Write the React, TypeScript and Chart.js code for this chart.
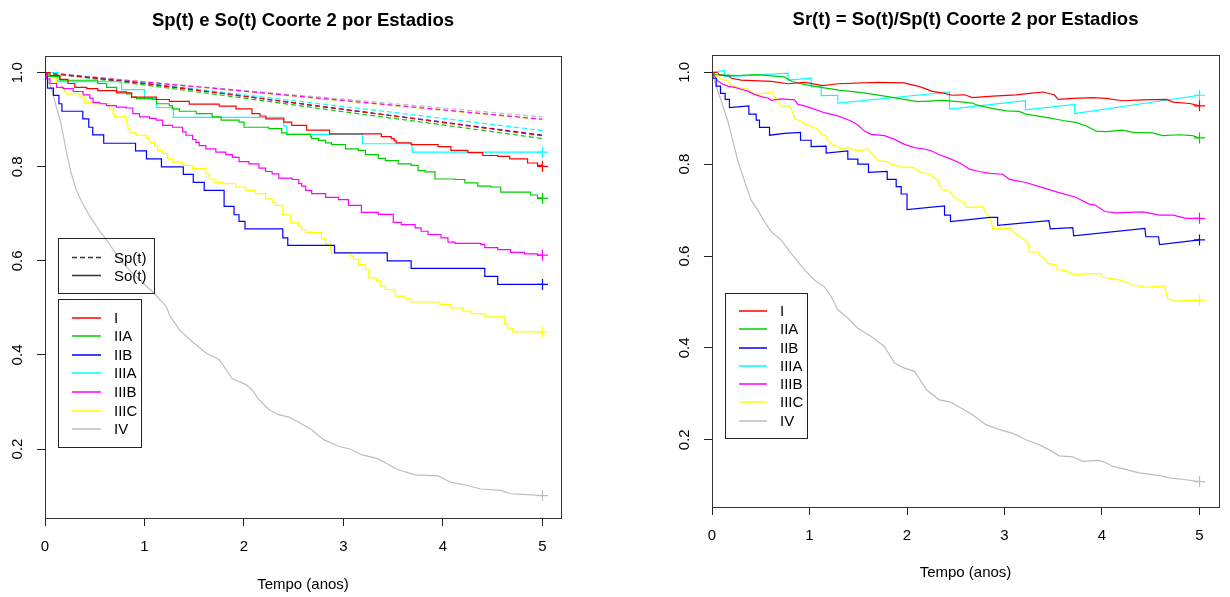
import React, { useEffect, useRef } from 'react';
import { Chart, registerables } from 'chart.js';

Chart.register(...registerables);

type Pt = [number, number];

const FONTE = '"Liberation Sans", Arial, Helvetica, sans-serif';

const estadios = ['I', 'IIA', 'IIB', 'IIIA', 'IIIB', 'IIIC', 'IV'];
const cores = ['#FF0000', '#00CD00', '#0000FF', '#00FFFF', '#FF00FF', '#FFFF00', '#BEBEBE'];
const tiposLinha = ['Sp(t)', 'So(t)'];
const tempoTicks = [0, 1, 2, 3, 4, 5];
const survTicks = [0.2, 0.4, 0.6, 0.8, 1.0];
const tituloEsq = 'Sp(t) e So(t) Coorte 2 por Estadios';
const tituloDir = 'Sr(t) = So(t)/Sp(t) Coorte 2 por Estadios';
const eixoX = 'Tempo (anos)';

// ---- So(t): observed survival (Kaplan-Meier steps) ----
const soI: Pt[] = [[0,1.0],[0.05,0.994],[0.15,0.986],[0.23,0.977],[0.30,0.969],[0.42,0.966],[0.53,0.962],[0.72,0.957],[0.87,0.948],[1.12,0.943],[1.25,0.939],[1.45,0.933],[1.75,0.929],[1.92,0.923],[2.08,0.913],[2.16,0.908],[2.22,0.902],[2.40,0.895],[2.48,0.888],[2.63,0.878],[2.86,0.870],[3.38,0.864],[3.48,0.860],[3.51,0.855],[3.53,0.851],[3.68,0.847],[3.95,0.843],[4.08,0.835],[4.25,0.830],[4.40,0.824],[4.55,0.822],[4.67,0.817],[4.85,0.808],[4.95,0.803],[5.0,0.801]];
const soIIA: Pt[] = [[0,1.0],[0.03,0.992],[0.15,0.984],[0.53,0.977],[0.62,0.969],[0.72,0.960],[0.82,0.955],[0.87,0.948],[0.92,0.945],[1.08,0.943],[1.12,0.934],[1.25,0.930],[1.28,0.923],[1.35,0.918],[1.52,0.913],[1.68,0.906],[1.77,0.899],[1.95,0.895],[2.0,0.884],[2.25,0.881],[2.38,0.872],[2.43,0.869],[2.67,0.864],[2.68,0.860],[2.75,0.856],[2.82,0.851],[2.88,0.847],[3.02,0.838],[3.15,0.835],[3.22,0.826],[3.35,0.818],[3.42,0.813],[3.55,0.806],[3.68,0.803],[3.75,0.792],[3.82,0.789],[3.92,0.774],[4.12,0.773],[4.22,0.766],[4.35,0.759],[4.48,0.757],[4.58,0.746],[4.88,0.740],[4.95,0.734],[5.0,0.733]];
const soIIB: Pt[] = [[0,1.0],[0.025,0.967],[0.085,0.952],[0.14,0.934],[0.17,0.918],[0.38,0.902],[0.44,0.884],[0.48,0.868],[0.59,0.850],[0.91,0.834],[1.02,0.817],[1.17,0.800],[1.39,0.784],[1.49,0.767],[1.60,0.750],[1.80,0.716],[1.90,0.698],[1.95,0.684],[2.01,0.668],[2.39,0.649],[2.44,0.633],[2.91,0.617],[3.44,0.600],[3.68,0.584],[4.42,0.567],[4.55,0.550],[5.0,0.550]];
const soIIIA: Pt[] = [[0,1.0],[0.13,0.981],[0.77,0.964],[1.0,0.945],[1.12,0.926],[1.29,0.905],[2.40,0.887],[2.43,0.869],[3.19,0.849],[3.69,0.831],[5.0,0.831]];
const soIIIB: Pt[] = [[0,1.0],[0.017,0.987],[0.05,0.977],[0.117,0.969],[0.183,0.966],[0.283,0.960],[0.383,0.953],[0.45,0.946],[0.483,0.937],[0.55,0.934],[0.617,0.930],[0.717,0.927],[0.817,0.925],[0.883,0.913],[0.95,0.906],[1.05,0.903],[1.117,0.899],[1.183,0.888],[1.283,0.884],[1.383,0.874],[1.417,0.867],[1.483,0.858],[1.517,0.852],[1.55,0.845],[1.617,0.838],[1.717,0.831],[1.817,0.826],[1.883,0.820],[1.95,0.811],[2.05,0.806],[2.15,0.797],[2.217,0.790],[2.283,0.785],[2.35,0.776],[2.483,0.773],[2.55,0.764],[2.58,0.759],[2.62,0.750],[2.68,0.743],[2.82,0.735],[2.95,0.730],[3.05,0.718],[3.18,0.703],[3.35,0.699],[3.50,0.682],[3.58,0.677],[3.72,0.670],[3.78,0.663],[3.85,0.656],[3.98,0.649],[4.05,0.640],[4.12,0.637],[4.38,0.635],[4.42,0.628],[4.55,0.624],[4.68,0.618],[4.82,0.615],[4.95,0.612],[5.0,0.612]];
const soIIIC: Pt[] = [[0,1.0],[0.05,0.989],[0.117,0.977],[0.167,0.966],[0.2,0.959],[0.217,0.955],[0.35,0.948],[0.4,0.937],[0.483,0.934],[0.65,0.923],[0.683,0.913],[0.7,0.906],[0.817,0.891],[0.833,0.881],[0.85,0.872],[0.917,0.867],[1.017,0.860],[1.05,0.852],[1.1,0.845],[1.133,0.835],[1.183,0.828],[1.233,0.817],[1.283,0.810],[1.383,0.803],[1.483,0.796],[1.617,0.785],[1.65,0.774],[1.7,0.767],[1.783,0.764],[1.917,0.757],[2.017,0.750],[2.117,0.743],[2.217,0.732],[2.283,0.725],[2.317,0.718],[2.39,0.698],[2.47,0.681],[2.55,0.674],[2.58,0.667],[2.62,0.660],[2.78,0.647],[2.82,0.635],[2.87,0.624],[2.88,0.617],[3.07,0.610],[3.10,0.603],[3.15,0.592],[3.22,0.582],[3.25,0.564],[3.33,0.557],[3.37,0.547],[3.42,0.539],[3.52,0.525],[3.62,0.519],[3.68,0.513],[3.97,0.507],[4.08,0.500],[4.20,0.493],[4.28,0.488],[4.42,0.481],[4.62,0.466],[4.65,0.457],[4.70,0.449],[5.0,0.449]];
const soIV: Pt[] = [[0,1.0],[0.033,0.98],[0.067,0.966],[0.11,0.930],[0.157,0.895],[0.19,0.860],[0.223,0.824],[0.26,0.789],[0.31,0.753],[0.37,0.725],[0.45,0.695],[0.55,0.663],[0.64,0.638],[0.75,0.603],[0.88,0.574],[1.02,0.546],[1.10,0.530],[1.22,0.503],[1.25,0.485],[1.35,0.454],[1.42,0.440],[1.48,0.428],[1.62,0.404],[1.75,0.390],[1.82,0.369],[1.88,0.350],[2.02,0.337],[2.08,0.326],[2.15,0.305],[2.25,0.284],[2.35,0.273],[2.45,0.268],[2.55,0.257],[2.68,0.241],[2.80,0.220],[2.95,0.206],[3.08,0.199],[3.18,0.188],[3.35,0.179],[3.45,0.167],[3.55,0.156],[3.72,0.145],[3.95,0.143],[4.08,0.129],[4.22,0.124],[4.38,0.115],[4.58,0.112],[4.68,0.105],[4.85,0.103],[5.0,0.101]];

// ---- Sp(t): expected (population) survival ----
const spTempo = [0, 1, 2, 3, 4, 5];
const spI = [1.0, 0.977, 0.950, 0.922, 0.894, 0.866];
const spIIA = [1.0, 0.974, 0.946, 0.917, 0.889, 0.860];
const spIIB = [1.0, 0.977, 0.950, 0.922, 0.895, 0.867];
const spIIIA = [1.0, 0.978, 0.953, 0.928, 0.903, 0.877];
const spIIIB = [1.0, 0.980, 0.961, 0.941, 0.921, 0.901];
const spIIIC = [1.0, 0.980, 0.960, 0.940, 0.920, 0.900];
const spIV = [1.0, 0.981, 0.962, 0.944, 0.925, 0.906];

// ---- Sr(t) = So(t)/Sp(t): relative survival ----
const srI: Pt[] = [[0,1.0],[0.06,0.999],[0.077,0.994],[0.18,0.992],[0.197,0.987],[0.30,0.983],[0.61,0.980],[0.78,0.975],[0.95,0.978],[1.14,0.971],[1.29,0.975],[1.70,0.978],[1.97,0.977],[2.11,0.970],[2.18,0.965],[2.25,0.959],[2.385,0.954],[2.46,0.950],[2.59,0.951],[2.67,0.945],[2.88,0.948],[3.12,0.951],[3.26,0.954],[3.39,0.957],[3.51,0.951],[3.55,0.941],[3.70,0.943],[3.91,0.945],[4.04,0.943],[4.21,0.938],[4.42,0.940],[4.66,0.941],[4.73,0.935],[4.90,0.932],[5.0,0.927]];
const srIIA: Pt[] = [[0,1.0],[0.03,0.995],[0.25,0.993],[0.46,0.995],[0.61,0.992],[0.74,0.990],[0.82,0.980],[0.98,0.972],[1.12,0.967],[1.30,0.961],[1.56,0.955],[1.77,0.948],[2.0,0.940],[2.11,0.936],[2.38,0.939],[2.58,0.935],[2.67,0.933],[2.71,0.929],[2.88,0.921],[3.02,0.916],[3.15,0.915],[3.22,0.909],[3.43,0.902],[3.6,0.895],[3.73,0.891],[3.84,0.883],[3.94,0.872],[4.04,0.871],[4.21,0.874],[4.32,0.869],[4.52,0.868],[4.62,0.862],[4.79,0.864],[4.93,0.862],[5.0,0.857]];
const srIIB: Pt[] = [[0,1.0],[0.008,1.0],[0.008,0.987],[0.043,0.987],[0.043,0.970],[0.087,0.970],[0.087,0.954],[0.135,0.954],[0.135,0.941],[0.179,0.941],[0.179,0.923],[0.378,0.927],[0.378,0.909],[0.453,0.909],[0.453,0.896],[0.487,0.896],[0.487,0.880],[0.59,0.880],[0.59,0.863],[0.744,0.867],[0.908,0.869],[0.908,0.852],[1.017,0.852],[1.017,0.838],[1.171,0.839],[1.171,0.824],[1.393,0.829],[1.393,0.811],[1.496,0.811],[1.496,0.800],[1.605,0.800],[1.605,0.782],[1.797,0.784],[1.797,0.767],[1.889,0.767],[1.889,0.751],[1.94,0.751],[1.94,0.735],[2.0,0.735],[2.0,0.701],[2.385,0.709],[2.385,0.689],[2.446,0.689],[2.446,0.675],[2.85,0.684],[2.93,0.684],[2.93,0.667],[3.455,0.677],[3.47,0.659],[3.70,0.662],[3.71,0.644],[4.44,0.660],[4.45,0.642],[4.58,0.642],[4.59,0.625],[5.0,0.635]];
const srIIIA: Pt[] = [[0,1.0],[0.128,1.004],[0.128,0.990],[0.78,0.998],[0.78,0.983],[1.017,0.987],[1.017,0.968],[1.12,0.970],[1.12,0.949],[1.29,0.950],[1.29,0.933],[2.385,0.956],[2.436,0.957],[2.436,0.920],[3.215,0.938],[3.215,0.918],[3.72,0.930],[3.72,0.910],[5.0,0.950]];
const srIIIB: Pt[] = [[0,1.0],[0.026,0.992],[0.06,0.981],[0.111,0.974],[0.162,0.970],[0.231,0.967],[0.299,0.963],[0.368,0.959],[0.436,0.952],[0.504,0.947],[0.573,0.944],[0.607,0.939],[0.709,0.942],[0.846,0.940],[0.88,0.930],[0.949,0.927],[1.017,0.922],[1.154,0.912],[1.29,0.905],[1.427,0.894],[1.496,0.885],[1.564,0.872],[1.632,0.865],[1.769,0.862],[1.872,0.854],[1.974,0.843],[2.077,0.836],[2.179,0.833],[2.248,0.829],[2.316,0.822],[2.453,0.811],[2.556,0.801],[2.64,0.789],[2.74,0.784],[2.85,0.780],[2.98,0.778],[3.05,0.767],[3.22,0.760],[3.39,0.749],[3.56,0.738],[3.73,0.728],[3.87,0.713],[3.93,0.711],[4.03,0.697],[4.14,0.694],[4.42,0.696],[4.59,0.689],[4.73,0.689],[4.86,0.682],[5.0,0.682]];
const srIIIC: Pt[] = [[0,1.0],[0.06,0.988],[0.162,0.981],[0.197,0.972],[0.265,0.967],[0.368,0.963],[0.436,0.952],[0.62,0.956],[0.641,0.945],[0.692,0.938],[0.70,0.927],[0.795,0.927],[0.829,0.912],[0.846,0.898],[0.915,0.894],[0.949,0.887],[1.017,0.883],[1.085,0.876],[1.12,0.865],[1.171,0.862],[1.188,0.851],[1.239,0.843],[1.325,0.833],[1.393,0.836],[1.496,0.829],[1.598,0.833],[1.667,0.818],[1.701,0.807],[1.786,0.806],[1.838,0.800],[1.94,0.794],[2.06,0.793],[2.145,0.782],[2.248,0.777],[2.316,0.764],[2.35,0.746],[2.419,0.742],[2.487,0.728],[2.59,0.715],[2.607,0.706],[2.78,0.707],[2.812,0.693],[2.846,0.686],[2.88,0.660],[3.068,0.660],[3.085,0.653],[3.137,0.646],[3.188,0.638],[3.24,0.629],[3.256,0.609],[3.342,0.609],[3.359,0.602],[3.41,0.595],[3.444,0.584],[3.53,0.580],[3.53,0.571],[3.63,0.568],[3.72,0.559],[3.84,0.561],[3.99,0.562],[4.01,0.554],[4.11,0.551],[4.21,0.546],[4.316,0.537],[4.45,0.532],[4.641,0.535],[4.675,0.507],[4.744,0.502],[5.0,0.504]];
const srIV: Pt[] = [[0,1.0],[0.026,0.981],[0.06,0.959],[0.094,0.938],[0.128,0.916],[0.162,0.894],[0.197,0.865],[0.231,0.836],[0.265,0.807],[0.299,0.785],[0.333,0.764],[0.368,0.742],[0.402,0.721],[0.47,0.700],[0.538,0.675],[0.607,0.653],[0.709,0.635],[0.812,0.606],[0.949,0.570],[1.05,0.548],[1.154,0.533],[1.222,0.512],[1.29,0.483],[1.393,0.465],[1.496,0.443],[1.632,0.425],[1.769,0.403],[1.872,0.367],[1.974,0.356],[2.077,0.349],[2.20,0.309],[2.33,0.287],[2.45,0.282],[2.54,0.271],[2.675,0.254],[2.81,0.233],[2.95,0.222],[3.085,0.214],[3.22,0.200],[3.36,0.189],[3.46,0.178],[3.56,0.165],[3.70,0.163],[3.80,0.153],[3.97,0.155],[4.04,0.150],[4.11,0.142],[4.25,0.135],[4.38,0.128],[4.59,0.122],[4.69,0.117],[4.86,0.113],[5.0,0.109]];

const soCurvas = [soI, soIIA, soIIB, soIIIA, soIIIB, soIIIC, soIV];
const spCurvas = [spI, spIIA, spIIB, spIIIA, spIIIB, spIIIC, spIV];
const srCurvas = [srI, srIIA, srIIB, srIIIA, srIIIB, srIIIC, srIV];

const toXY = (pts: Pt[]) => pts.map(([x, y]) => ({ x, y }));

function curva(pts: Pt[], cor: string, stepped: boolean, marca: boolean) {
  const n = pts.length;
  return {
    data: toXY(pts),
    borderColor: cor,
    backgroundColor: cor,
    borderWidth: 1.2,
    stepped: stepped ? 'before' : false,
    tension: 0,
    fill: false,
    pointStyle: 'cross',
    pointRadius: (c: any) => (marca && c.dataIndex === n - 1 ? 5.5 : 0),
    pointHoverRadius: 0,
    pointBorderColor: cor,
    pointBorderWidth: 1.2,
  };
}

function tracejada(vals: number[], cor: string) {
  return {
    data: spTempo.map((t, i) => ({ x: t, y: vals[i] })),
    borderColor: cor,
    borderWidth: 1.2,
    borderDash: [5, 3],
    tension: 0,
    fill: false,
    pointRadius: 0,
    pointHoverRadius: 0,
  };
}

function escalas(xMax: number, yMin: number, yMax: number, xAltura: number, tituloBaixo: number) {
  const grid = { drawOnChartArea: false, drawTicks: true, tickLength: 8, color: '#222', lineWidth: 1 };
  return {
    x: {
      type: 'linear', min: 0, max: xMax,
      afterBuildTicks: (s: any) => { s.ticks = tempoTicks.map((v) => ({ value: v })); },
      afterFit: (s: any) => { s.height = xAltura; },
      grid, border: { display: false },
      ticks: { color: '#000', font: { family: FONTE, size: 15 }, padding: 12, minRotation: 0, maxRotation: 0, autoSkip: false, callback: (v: any) => String(v) },
      title: { display: true, text: eixoX, color: '#000', font: { family: FONTE, size: 15 }, padding: { top: 0, bottom: tituloBaixo } },
    },
    y: {
      type: 'linear', min: yMin, max: yMax,
      afterBuildTicks: (s: any) => { s.ticks = survTicks.map((v) => ({ value: v })); },
      afterFit: (s: any) => { s.width = 45; },
      grid, border: { display: false },
      ticks: { color: '#000', font: { family: FONTE, size: 15 }, padding: 9, minRotation: 90, maxRotation: 90, crossAlign: 'center', autoSkip: false, callback: (v: any) => Number(v).toFixed(1) },
    },
  };
}

function decor(titulo: string, tituloY: number, legenda: (ctx: CanvasRenderingContext2D) => void) {
  return {
    id: 'decor',
    afterDraw(chart: any) {
      const { ctx, chartArea: a } = chart;
      ctx.save();
      ctx.strokeStyle = '#333';
      ctx.lineWidth = 1;
      ctx.setLineDash([]);
      ctx.strokeRect(Math.round(a.left) + 0.5, Math.round(a.top) + 0.5, Math.round(a.right - a.left), Math.round(a.bottom - a.top));
      ctx.fillStyle = '#000';
      ctx.font = `bold 18.5px ${FONTE}`;
      ctx.textAlign = 'center';
      ctx.textBaseline = 'alphabetic';
      ctx.fillText(titulo, (a.left + a.right) / 2, tituloY);
      legenda(ctx);
      ctx.restore();
    },
  };
}

function amostra(ctx: CanvasRenderingContext2D, x0: number, x1: number, y: number, cor: string, dash: number[]) {
  ctx.beginPath();
  ctx.strokeStyle = cor;
  ctx.lineWidth = 1.5;
  ctx.setLineDash(dash);
  ctx.moveTo(x0, y);
  ctx.lineTo(x1, y);
  ctx.stroke();
  ctx.setLineDash([]);
}

function legendaEsq(ctx: CanvasRenderingContext2D) {
  ctx.strokeStyle = '#222';
  ctx.lineWidth = 1;
  ctx.strokeRect(58.5, 238.5, 96, 55);
  ctx.strokeRect(58.5, 299.5, 83, 148);
  ctx.font = `15px ${FONTE}`;
  ctx.textAlign = 'left';
  ctx.textBaseline = 'middle';
  tiposLinha.forEach((lab, i) => {
    const y = 257.5 + i * 18;
    amostra(ctx, 72, 101, y, '#333', i === 0 ? [5, 3] : []);
    ctx.fillStyle = '#000';
    ctx.fillText(lab, 114, y + 1);
  });
  estadios.forEach((lab, i) => {
    const y = Math.round(317.5 + i * 18.65);
    amostra(ctx, 72, 101, y, cores[i], []);
    ctx.fillStyle = '#000';
    ctx.fillText(lab, 114, y + 1);
  });
}

function legendaDir(ctx: CanvasRenderingContext2D) {
  ctx.strokeStyle = '#222';
  ctx.lineWidth = 1;
  ctx.strokeRect(110.5, 293.5, 82, 145);
  ctx.font = `15px ${FONTE}`;
  ctx.textAlign = 'left';
  ctx.textBaseline = 'middle';
  estadios.forEach((lab, i) => {
    const y = Math.round(311 + i * 18.28);
    amostra(ctx, 124, 152, y, cores[i], []);
    ctx.fillStyle = '#000';
    ctx.fillText(lab, 165, y + 1);
  });
}

function graficoEsq(canvas: HTMLCanvasElement) {
  const datasets: any[] = [];
  soCurvas.forEach((c, i) => datasets.push(curva(c, cores[i], i !== 6, true)));
  spCurvas.forEach((c, i) => datasets.push(tracejada(c, cores[i])));
  return new Chart(canvas, {
    type: 'line',
    data: { datasets },
    options: {
      responsive: false,
      animation: false,
      events: [],
      layout: { padding: { left: 0, right: 54, top: 56, bottom: 0 } },
      plugins: { legend: { display: false }, tooltip: { enabled: false }, title: { display: false } },
      scales: escalas(5.186, 0.0534, 1.0355, 79, 3) as any,
    },
    plugins: [decor(tituloEsq, 26, legendaEsq)],
  } as any);
}

function graficoDir(canvas: HTMLCanvasElement) {
  const datasets: any[] = srCurvas.map((c, i) => curva(c, cores[i], false, true));
  return new Chart(canvas, {
    type: 'line',
    data: { datasets },
    options: {
      responsive: false,
      animation: false,
      events: [],
      layout: { padding: { left: 52, right: 11, top: 55, bottom: 0 } },
      plugins: { legend: { display: false }, tooltip: { enabled: false }, title: { display: false } },
      scales: escalas(5.2, 0.0537, 1.0376, 90, 15) as any,
    },
    plugins: [decor(tituloDir, 25, legendaDir)],
  } as any);
}

export default function App() {
  const esqRef = useRef<HTMLCanvasElement>(null);
  const dirRef = useRef<HTMLCanvasElement>(null);
  useEffect(() => {
    document.body.style.margin = '0';
    const charts: Chart[] = [];
    if (esqRef.current) charts.push(graficoEsq(esqRef.current));
    if (dirRef.current) charts.push(graficoDir(dirRef.current));
    return () => charts.forEach((c) => c.destroy());
  }, []);
  return (
    <div style={{ position: 'absolute', left: 0, top: 0, width: 1230, height: 597, background: '#fff', overflow: 'hidden' }}>
      <canvas ref={esqRef} width={615} height={597} style={{ position: 'absolute', left: 0, top: 0, width: 615, height: 597 }} />
      <canvas ref={dirRef} width={615} height={597} style={{ position: 'absolute', left: 615, top: 0, width: 615, height: 597 }} />
    </div>
  );
}
